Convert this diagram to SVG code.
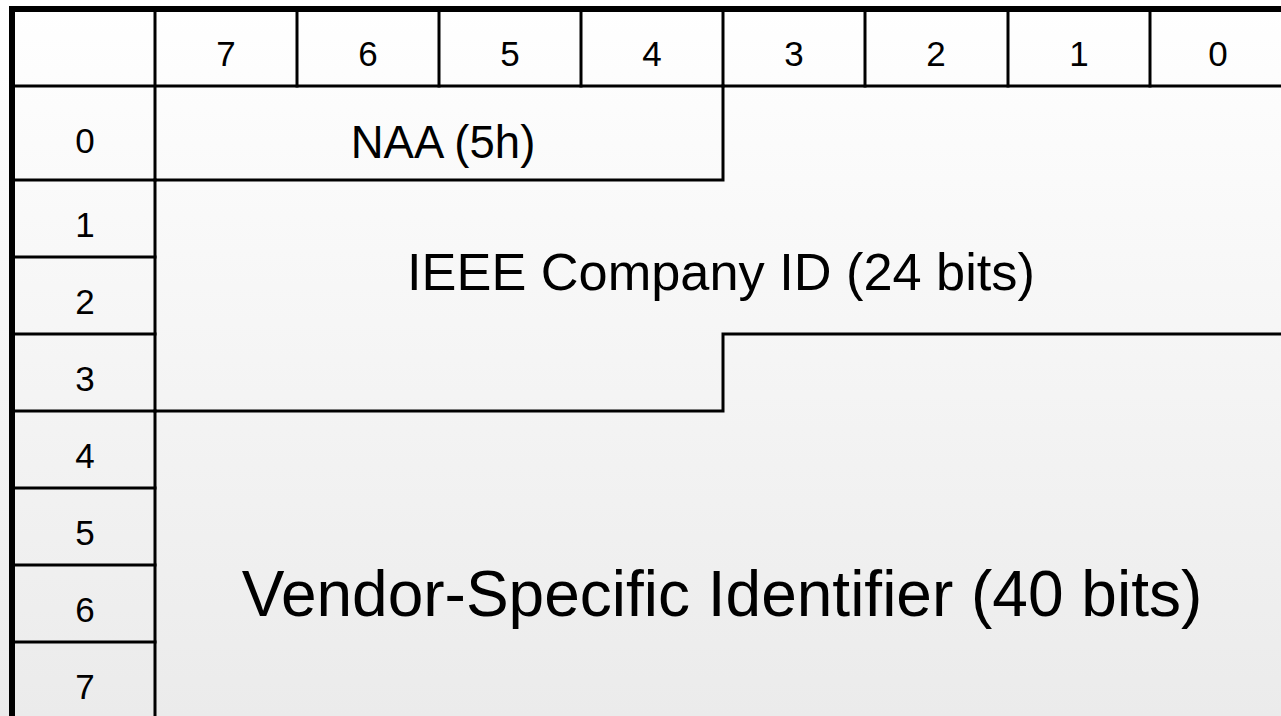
<svg xmlns="http://www.w3.org/2000/svg" width="1281" height="716" viewBox="0 0 1281 716">
<defs>
<linearGradient id="bg" x1="0" y1="0" x2="0" y2="1">
<stop offset="0" stop-color="#ffffff"/>
<stop offset="1" stop-color="#ebebeb"/>
</linearGradient>
</defs>
<style>
.ln{stroke:#000;stroke-width:3;fill:none;stroke-linecap:square}
.bd{stroke:#000;stroke-width:6;fill:none}
.num{font-family:"Liberation Sans",Arial,sans-serif;font-size:35px;fill:#000;text-anchor:middle}
.fld{font-family:"Liberation Sans",Arial,sans-serif;fill:#000;text-anchor:middle}
</style>
<rect x="0" y="0" width="1281" height="716" fill="url(#bg)"/>
<g id="connectors">
<line class="ln" x1="15" y1="86" x2="1281" y2="86"/>
<line class="ln" x1="155" y1="12" x2="155" y2="716"/>
<line class="ln" x1="297" y1="12" x2="297" y2="86"/>
<line class="ln" x1="439" y1="12" x2="439" y2="86"/>
<line class="ln" x1="581" y1="12" x2="581" y2="86"/>
<line class="ln" x1="723" y1="12" x2="723" y2="86"/>
<line class="ln" x1="865" y1="12" x2="865" y2="86"/>
<line class="ln" x1="1008" y1="12" x2="1008" y2="86"/>
<line class="ln" x1="1150" y1="12" x2="1150" y2="86"/>
<line class="ln" x1="15" y1="180" x2="155" y2="180"/>
<line class="ln" x1="15" y1="257" x2="155" y2="257"/>
<line class="ln" x1="15" y1="334" x2="155" y2="334"/>
<line class="ln" x1="15" y1="411" x2="155" y2="411"/>
<line class="ln" x1="15" y1="488" x2="155" y2="488"/>
<line class="ln" x1="15" y1="565" x2="155" y2="565"/>
<line class="ln" x1="15" y1="642" x2="155" y2="642"/>
<polyline class="ln" points="155,180 723,180 723,86"/>
<polyline class="ln" points="155,411 723,411 723,334 1281,334"/>
<line class="bd" x1="9" y1="9" x2="1281" y2="9"/>
<line class="bd" x1="12" y1="6" x2="12" y2="716"/>
</g>
<g id="header">
<text class="num" x="226" y="66">7</text>
<text class="num" x="368" y="66">6</text>
<text class="num" x="510" y="66">5</text>
<text class="num" x="652" y="66">4</text>
<text class="num" x="794" y="66">3</text>
<text class="num" x="936" y="66">2</text>
<text class="num" x="1079" y="66">1</text>
<text class="num" x="1218" y="66">0</text>
</g>
<g id="rows">
<text class="num" x="85" y="153">0</text>
<text class="num" x="85" y="237">1</text>
<text class="num" x="85" y="314">2</text>
<text class="num" x="85" y="391">3</text>
<text class="num" x="85" y="468">4</text>
<text class="num" x="85" y="545">5</text>
<text class="num" x="85" y="622">6</text>
<text class="num" x="85" y="699">7</text>
</g>
<g id="naa"><text class="fld" x="443" y="158" font-size="45.5">NAA (5h)</text></g>
<g id="ieee"><text class="fld" x="721" y="290" font-size="52.3">IEEE Company ID (24 bits)</text></g>
<g id="vendor"><text class="fld" x="722" y="616" font-size="64">Vendor-Specific Identifier (40 bits)</text></g>
</svg>
